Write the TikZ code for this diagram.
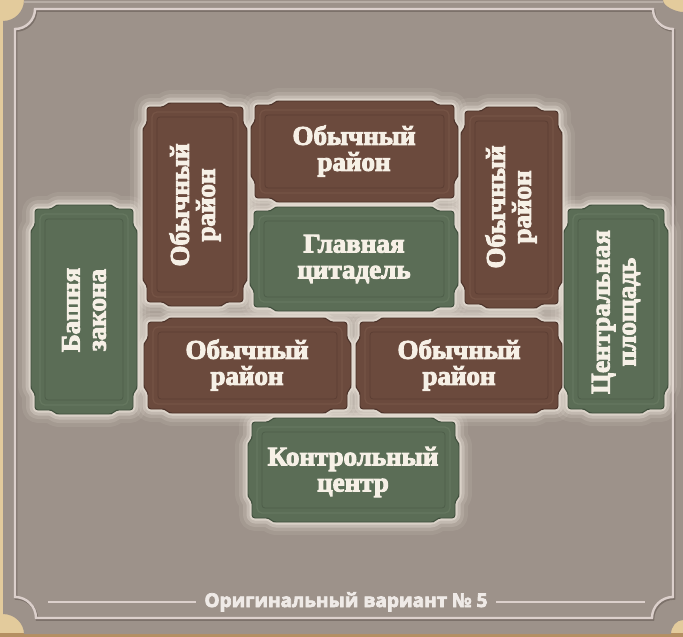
\documentclass[tikz,border=0pt]{standalone}
\usepackage{fontspec}
\setmainfont{Liberation Serif}
\newfontfamily\capfont{Open Sans}
\definecolor{parch}{HTML}{E3CB9C}
\definecolor{tan}{HTML}{B48F62}
\definecolor{panel}{HTML}{9D928A}
\definecolor{glowc}{HTML}{EAE2D8}
\definecolor{brownt}{HTML}{6B4A3D}
\definecolor{brownd}{HTML}{4A3128}
\definecolor{brownl}{HTML}{7E5C4C}
\definecolor{greent}{HTML}{5B6D56}
\definecolor{greend}{HTML}{3E4D3B}
\definecolor{greenl}{HTML}{6E8067}
\definecolor{txtc}{HTML}{F6F0E6}
\definecolor{framec}{HTML}{DCD0CC}
\definecolor{frames}{HTML}{625750}
\definecolor{capc}{HTML}{EFEAE7}
\newcommand\outlon{\special{pdf:literal direct 1.0 w 0.2 0.14 0.1 RG 2 Tr}}
\newcommand\capoutlon{\special{pdf:literal direct 0.7 w 0.33 0.29 0.27 RG 2 Tr}}
\newcommand\outloff{\special{pdf:literal direct 0 Tr}}
\tikzset{
  tileshape/.style n args={4}{insert path={
    ({#1+25},#2) -- ({#3-25},#2) -- ({#3-21},{#2+4}) -- ({#3-4},{#2+4}) -- ({#3-4},{#2+21}) -- (#3,{#2+25})
    -- (#3,{#4-25}) -- ({#3-4},{#4-21}) -- ({#3-4},{#4-4}) -- ({#3-21},{#4-4}) -- ({#3-25},#4)
    -- ({#1+25},#4) -- ({#1+21},{#4-4}) -- ({#1+4},{#4-4}) -- ({#1+4},{#4-21}) -- (#1,{#4-25})
    -- (#1,{#2+25}) -- ({#1+4},{#2+21}) -- ({#1+4},{#2+4}) -- ({#1+21},{#2+4}) -- cycle}},
  glowline/.style={glowc,line join=round,rounded corners=3},
  lbl/.style={text=txtc,align=center,inner sep=0pt,
    font=\fontsize{27}{26}\selectfont\bfseries,
    execute at begin node=\outlon, execute at end node=\outloff},
  captext/.style={text=capc,inner sep=0pt,font=\capfont\fontsize{19}{20}\selectfont\bfseries,
    execute at begin node=\capoutlon, execute at end node=\outloff},
  capline/.style={framec,line width=2.4},
  capshadow/.style={frames,line width=2.4,opacity=.55},
  framepath/.style={insert path={
    (15,29) -- (15,597) .. controls (26.6,597) and (36,606.4) .. (36,618)
    -- (652,618) .. controls (652,606.4) and (661.4,597) .. (673,597)
    -- (673,29) .. controls (661.95,29) and (653,20.05) .. (653,9)
    -- (35,9) .. controls (35,20.05) and (26.05,29) .. (15,29) -- cycle}},
}
\newcommand\tileglow[4]{%
  \draw[glowline,line width=26,opacity=.10,tileshape={#1}{#2}{#3}{#4}];
  \draw[glowline,line width=18,opacity=.18,tileshape={#1}{#2}{#3}{#4}];
  \draw[glowline,line width=11,opacity=.34,tileshape={#1}{#2}{#3}{#4}];
  \draw[glowline,line width=5,opacity=.6,tileshape={#1}{#2}{#3}{#4}];
}
\newcommand\tilebody[5]{%
  \fill[#5t,draw=#5d,line width=.9,rounded corners=3,tileshape={#1}{#2}{#3}{#4}];
  \draw[#5l,line width=1.2,opacity=.55,rounded corners=5] ({#1+9},{#2+9}) rectangle ({#3-9},{#4-9});
  \draw[#5d,line width=.8,opacity=.45,rounded corners=3] ({#1+14},{#2+14}) rectangle ({#3-14},{#4-14});
}
\begin{document}
\begin{tikzpicture}[x=1pt,y=-1pt]
\useasboundingbox (0,0) rectangle (683,637);
% background
\fill[parch] (0,0) rectangle (683,637);
\fill[tan] (0,633) rectangle (683,637);
\fill[panel] (3,21) .. controls (14.6,21) and (24,11.6) .. (24,0)
  -- (663,0) .. controls (663,6.6) and (676.4,12) .. (683,12)
  -- (683,620) .. controls (676.4,620) and (671,626.6) .. (671,634)
  -- (24,634) .. controls (24,623.4) and (14.6,614) .. (3,614) -- cycle;
\draw[glowc,opacity=.35,line width=1.5] (24,2) -- (663,2);
% frame
\draw[frames,line width=2.6,opacity=.55,shift={(1,1.5)},framepath];
\draw[framec,line width=2.4,framepath];
% glows
\tileglow{31}{205}{137}{414}
\tileglow{143}{103}{247}{306}
\tileglow{251}{101}{458}{202}
\tileglow{250}{207}{458}{311}
\tileglow{461}{107}{562}{308}
\tileglow{564}{205}{668}{413}
\tileglow{144}{318}{351}{413}
\tileglow{356}{318}{562}{413}
\tileglow{248}{418}{459}{522}
% tiles
\tilebody{31}{205}{137}{414}{green}
\tilebody{143}{103}{247}{306}{brown}
\tilebody{251}{101}{458}{202}{brown}
\tilebody{250}{207}{458}{311}{green}
\tilebody{461}{107}{562}{308}{brown}
\tilebody{564}{205}{668}{413}{green}
\tilebody{144}{318}{351}{413}{brown}
\tilebody{356}{318}{562}{413}{brown}
\tilebody{248}{418}{459}{522}{green}
% labels
\node[lbl,rotate=90] (bz) at (84,310) {Башня\\закона};
\node[lbl,rotate=90] (lv) at (195,205) {Обычный\\район};
\node[lbl] (th) at (354,151) {Обычный\\район};
\node[lbl] (gc) at (354,259) {Главная\\цитадель};
\node[lbl,rotate=90] (rv) at (511,207) {Обычный\\район};
\node[lbl,rotate=90] (cp) at (616,312) {Центральная\\площадь};
\node[lbl] (bl) at (247,365) {Обычный\\район};
\node[lbl] (br) at (459,365) {Обычный\\район};
\node[lbl] (kc) at (353,472) {Контрольный\\центр};
% caption
\node[captext,anchor=base] (caption) at (346,607) {Оригинальный вариант №~5};
\coordinate (capl) at (48,602);
\coordinate (capr) at (645,602);
\draw[capshadow,shift={(0.8,1.6)}] (capl) -- ([xshift=-8pt]caption.west |- capl);
\draw[capshadow,shift={(0.8,1.6)}] ([xshift=8pt]caption.east |- capr) -- (capr);
\draw[capline] (capl) -- ([xshift=-8pt]caption.west |- capl);
\draw[capline] ([xshift=8pt]caption.east |- capr) -- (capr);
\end{tikzpicture}
\end{document}
